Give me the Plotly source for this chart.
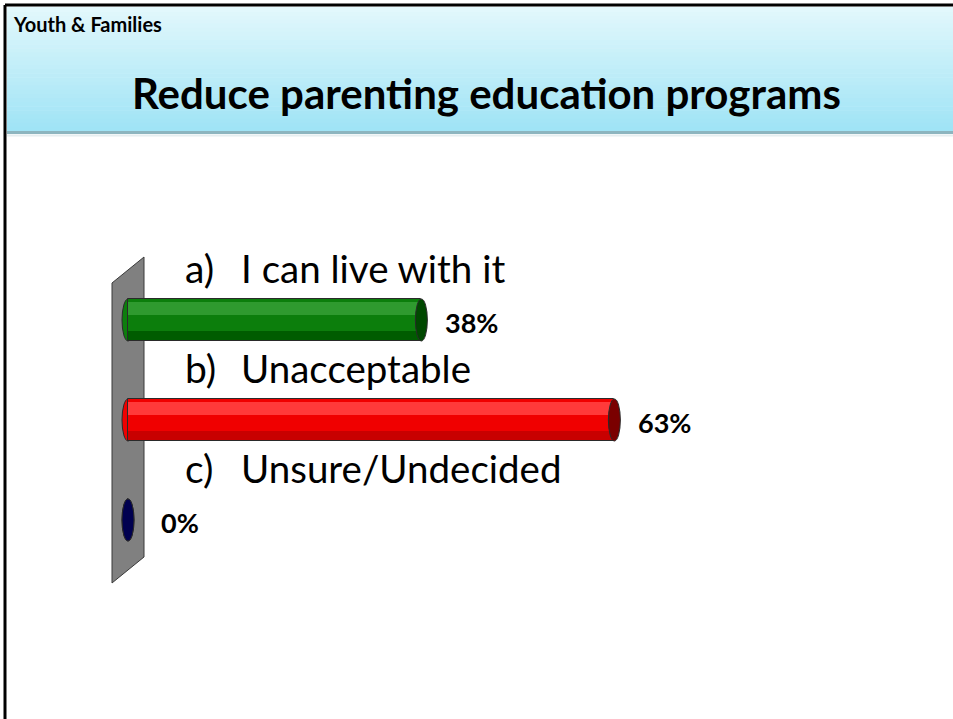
import plotly.graph_objects as go

# data
letters = ["a)", "b)", "c)"]
answers = ["I can live with it", "Unacceptable", "Unsure/Undecided"]
percent = [38, 63, 0]
body_colors = ["#0c7e0c", "#f00000", "#000050"]
light_colors = ["#2f9a2f", "#ff3a3a", "#000070"]
shade_colors = ["#005c00", "#c80000", "#000040"]
cap_colors = ["#004800", "#7a0000", "#000050"]

W, H = 953, 719
PX_PER_PCT = 7.72
ZERO_PX = 128
BAR_W = 0.42

x0 = -ZERO_PX / PX_PER_PCT
x1 = x0 + W / PX_PER_PCT
y_top = -3.2
y_bot = y_top + H / 100.0
cap_half = 6 / PX_PER_PCT
pos = list(range(len(answers)))


def px(x, y):
    return x / W, 1 - y / H


fig = go.Figure()

# cylinder body built from overlaid bands
bands = [(0.0, 1.0, body_colors), (0.08, 0.38, light_colors), (0.75, 1.0, shade_colors)]
for f0, f1, cols in bands:
    fig.add_trace(go.Bar(
        orientation="h", x=percent, y=pos,
        width=BAR_W * (f1 - f0), offset=-BAR_W / 2 + BAR_W * f0,
        marker=dict(color=cols, line=dict(width=0)),
        hoverinfo="skip", showlegend=False))
# outline bar
fig.add_trace(go.Bar(
    orientation="h", x=percent, y=pos, width=BAR_W, offset=-BAR_W / 2,
    marker=dict(color="rgba(0,0,0,0)", line=dict(color="#2a2a2a", width=1)),
    hoverinfo="skip", showlegend=False))

shapes = []
# slide border
shapes.append(dict(type="line", xref="paper", yref="paper",
                   x0=px(5, 5)[0], y0=px(5, 5)[1], x1=1, y1=px(5, 5)[1],
                   line=dict(color="black", width=3)))
shapes.append(dict(type="line", xref="paper", yref="paper",
                   x0=px(5, 5)[0], y0=px(5, 5)[1], x1=px(5, 5)[0], y1=0,
                   line=dict(color="black", width=3)))

# header gradient
top_c = (226, 248, 252)
bot_c = (160, 228, 246)
n = 30
hy0, hy1 = 7, 131
for i in range(n):
    t = i / (n - 1)
    c = tuple(int(top_c[k] + (bot_c[k] - top_c[k]) * t) for k in range(3))
    ya = hy0 + (hy1 - hy0) * i / n
    yb = hy0 + (hy1 - hy0) * (i + 1) / n + 0.5
    shapes.append(dict(type="rect", xref="paper", yref="paper", layer="below",
                       x0=px(7, 0)[0], x1=1, y0=px(0, yb)[1], y1=px(0, ya)[1],
                       fillcolor="rgb(%d,%d,%d)" % c, line=dict(width=0)))
shapes.append(dict(type="line", xref="paper", yref="paper",
                   x0=px(7, 0)[0], x1=1, y0=px(0, 132.5)[1], y1=px(0, 132.5)[1],
                   line=dict(color="#8db5bf", width=3)))
shapes.append(dict(type="line", xref="paper", yref="paper",
                   x0=px(7, 0)[0], x1=1, y0=px(0, 135.5)[1], y1=px(0, 135.5)[1],
                   line=dict(color="#e6eef0", width=2)))

# the gray wall
pts = [(112, 283), (144, 257), (144, 557), (112, 583)]
path = "M " + " L ".join("%f,%f" % px(a, b) for a, b in pts) + " Z"
shapes.append(dict(type="path", xref="paper", yref="paper", layer="below",
                   path=path, fillcolor="#808080", line=dict(color="#3a3a3a", width=1)))

# cylinder ends
for i, v in enumerate(percent):
    shapes.append(dict(type="circle", xref="x", yref="y", layer="below",
                       x0=-cap_half, x1=cap_half, y0=i - BAR_W / 2, y1=i + BAR_W / 2,
                       fillcolor=body_colors[i], line=dict(color="#2a2a2a", width=1)))
    shapes.append(dict(type="circle", xref="x", yref="y", layer="above",
                       x0=v - cap_half, x1=v + cap_half, y0=i - BAR_W / 2, y1=i + BAR_W / 2,
                       fillcolor=cap_colors[i], line=dict(color="#2a2a2a", width=1)))

annotations = [
    dict(text="<b>Youth & Families</b>", xref="paper", yref="paper",
         x=px(11, 0)[0], y=px(0, 24)[1], xanchor="left", yanchor="middle",
         showarrow=False, font=dict(size=20, color="black")),
    dict(text="<b>Reduce parenting education programs</b>", xref="paper", yref="paper",
         x=px(486, 0)[0], y=px(0, 93)[1], xanchor="center", yanchor="middle",
         showarrow=False, font=dict(size=42, color="black")),
]
letter_x = (183 - ZERO_PX) / PX_PER_PCT
answer_x = (239 - ZERO_PX) / PX_PER_PCT
for i in pos:
    annotations.append(dict(text=letters[i], x=letter_x, y=i - 0.52, xref="x", yref="y",
                            xanchor="left", yanchor="middle", showarrow=False,
                            font=dict(size=39, color="black")))
    annotations.append(dict(text=answers[i], x=answer_x, y=i - 0.52, xref="x", yref="y",
                            xanchor="left", yanchor="middle", showarrow=False,
                            font=dict(size=38.5, color="black")))
    annotations.append(dict(text="<b>%d%%</b>" % percent[i], x=percent[i], y=i + 0.02,
                            xref="x", yref="y", xanchor="left", yanchor="middle",
                            xshift=22 if percent[i] else 31, showarrow=False,
                            font=dict(size=27, color="black")))

fig.update_layout(
    width=W, height=H, margin=dict(l=0, r=0, t=0, b=0),
    paper_bgcolor="white", plot_bgcolor="white",
    barmode="overlay", bargap=0,
    font=dict(family="Lato"),
    xaxis=dict(range=[x0, x1], visible=False, fixedrange=True),
    yaxis=dict(range=[y_bot, y_top], visible=False, fixedrange=True),
    shapes=shapes, annotations=annotations,
)

fig.write_html("out.html", config={"displayModeBar": False},
               post_script="document.body.style.margin='0';")
